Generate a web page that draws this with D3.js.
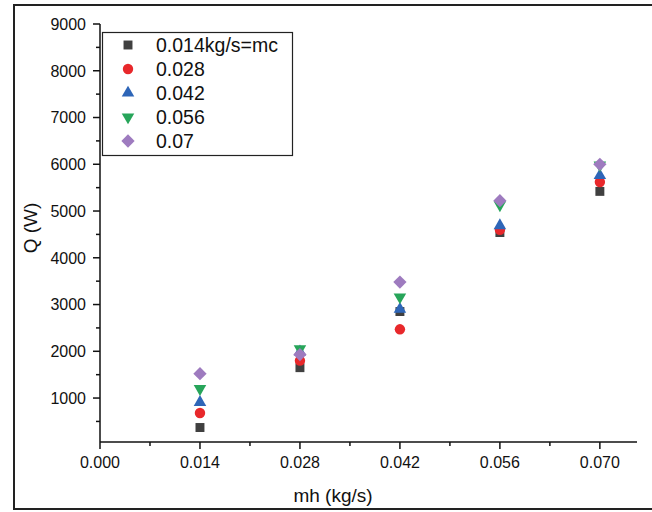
<!DOCTYPE html>
<html>
<head>
<meta charset="utf-8">
<script src="https://cdn.jsdelivr.net/npm/d3@7"></script>
<style>
  html, body { margin: 0; padding: 0; background: #fff; }
  svg { display: block; font-family: Arial, "Liberation Sans", sans-serif; }
</style>
</head>
<body>
<svg id="chart" width="652" height="512"></svg>
<script>
// ---- data ----
const xValues = [0.014, 0.028, 0.042, 0.056, 0.070];
const seriesNames = ["0.014kg/s=mc", "0.028", "0.042", "0.056", "0.07"];
const q014 = [370, 1650, 2850, 4540, 5420];
const q028 = [680, 1800, 2470, 4600, 5620];
const q042 = [910, 1990, 2900, 4690, 5760];
const q056 = [1200, 2050, 3160, 5130, 5980];
const q070 = [1520, 1930, 3480, 5220, 6000];
const xTicks = [0.000, 0.014, 0.028, 0.042, 0.056, 0.070];
const yTicks = [1000, 2000, 3000, 4000, 5000, 6000, 7000, 8000, 9000];

const seriesValues = [q014, q028, q042, q056, q070];
const colors = ["#404040", "#e8282b", "#2e66b8", "#27a55a", "#9e7bbf"];
const symbols = ["square", "circle", "up", "down", "diamond"];
const sizes = [80, 85, 68, 68, 88];

const svg = d3.select("#chart");

// outer frame
svg.append("rect").attr("x", 14).attr("y", 5).attr("width", 660).attr("height", 504)
  .attr("fill", "none").attr("stroke", "#222").attr("stroke-width", 2);

const x = d3.scaleLinear().domain([0, 0.0752]).range([100, 637]);
const y = d3.scaleLinear().domain([60, 9000]).range([442, 24]);

// x axis
const xAxis = svg.append("g").attr("transform", `translate(0,${y.range()[0]})`);
xAxis.append("line").attr("x1", x.range()[0]).attr("x2", x.range()[1])
  .attr("stroke", "#111").attr("stroke-width", 1.5);
xAxis.selectAll(".minor").data(d3.range(0.007, 0.0752, 0.014)).enter().append("line")
  .attr("x1", d => x(d)).attr("x2", d => x(d)).attr("y1", 0).attr("y2", 4)
  .attr("stroke", "#111").attr("stroke-width", 1.5);
xAxis.selectAll(".major").data(xTicks).enter().append("line")
  .attr("x1", d => x(d)).attr("x2", d => x(d)).attr("y1", 0).attr("y2", 7)
  .attr("stroke", "#111").attr("stroke-width", 1.5);
xAxis.selectAll(".lbl").data(xTicks).enter().append("text")
  .attr("x", d => x(d)).attr("y", 26).attr("text-anchor", "middle")
  .attr("font-size", 16).attr("fill", "#111").text(d => d3.format(".3f")(d));

// y axis
const yAxis = svg.append("g").attr("transform", `translate(${x.range()[0]},0)`);
yAxis.append("line").attr("y1", y.range()[0]).attr("y2", y.range()[1])
  .attr("stroke", "#111").attr("stroke-width", 1.5);
yAxis.selectAll(".minor").data(d3.range(500, 9000, 1000)).enter().append("line")
  .attr("y1", d => y(d)).attr("y2", d => y(d)).attr("x1", 0).attr("x2", -4)
  .attr("stroke", "#111").attr("stroke-width", 1.5);
yAxis.selectAll(".major").data(yTicks).enter().append("line")
  .attr("y1", d => y(d)).attr("y2", d => y(d)).attr("x1", 0).attr("x2", -7)
  .attr("stroke", "#111").attr("stroke-width", 1.5);
yAxis.selectAll(".lbl").data(yTicks).enter().append("text")
  .attr("x", -14).attr("y", d => y(d)).attr("dy", "0.36em").attr("text-anchor", "end")
  .attr("font-size", 16).attr("fill", "#111").text(d => d);

// axis titles
svg.append("text").attr("x", 333).attr("y", 502).attr("text-anchor", "middle")
  .attr("font-size", 19).attr("fill", "#111").text("mh (kg/s)");
svg.append("text").attr("transform", "translate(37,228) rotate(-90)")
  .attr("text-anchor", "middle").attr("font-size", 19).attr("fill", "#111").text("Q (W)");

function symPath(i) {
  const t = symbols[i];
  const type = t === "square" || t === "diamond" ? d3.symbolSquare
             : t === "circle" ? d3.symbolCircle : d3.symbolTriangle;
  return d3.symbol().type(type).size(sizes[i])();
}
function symRot(i) {
  const t = symbols[i];
  return t === "down" ? " rotate(180)" : t === "diamond" ? " rotate(45)" : "";
}

// points
seriesValues.forEach((vals, i) => {
  svg.append("g").selectAll("path").data(vals).enter().append("path")
    .attr("d", symPath(i))
    .attr("transform", (d, j) => `translate(${x(xValues[j])},${y(d)})${symRot(i)}`)
    .attr("fill", colors[i]);
});

// legend
const lg = svg.append("g");
lg.append("rect").attr("x", 102.5).attr("y", 32.5).attr("width", 190).attr("height", 123)
  .attr("fill", "#fff").attr("stroke", "#222").attr("stroke-width", 1.2);
seriesNames.forEach((name, i) => {
  const cy = 45 + i * 24;
  lg.append("path").attr("d", symPath(i))
    .attr("transform", `translate(128,${cy})${symRot(i)}`).attr("fill", colors[i]);
  lg.append("text").attr("x", 156).attr("y", cy).attr("dy", "0.36em")
    .attr("font-size", 19.5).attr("fill", "#111").text(name);
});
</script>
</body>
</html>
